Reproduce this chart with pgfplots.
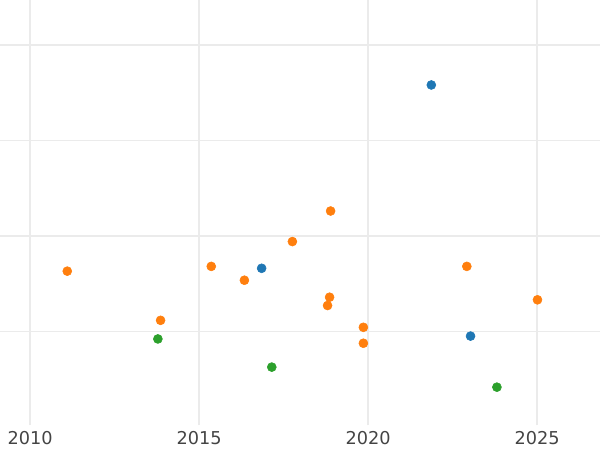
\documentclass[border=0pt]{standalone}
\usepackage{fontspec}
\setmainfont{DejaVu Sans}
\usepackage{pgfplots}
\pgfplotsset{compat=1.18}
\definecolor{tabblue}{HTML}{1F77B4}
\definecolor{taborange}{HTML}{FF7F0E}
\definecolor{tabgreen}{HTML}{2CA02C}
\definecolor{gridgray}{HTML}{EBEBEB}
\definecolor{labelgray}{HTML}{444444}
\begin{document}
\begin{tikzpicture}
\begin{axis}[
  scale only axis,
  width=433.62pt, height=307.4pt,
  xmin=2009.11, xmax=2026.86,
  ymin=-0.985, ymax=3.47,
  xtick={2010,2015,2020,2025},
  ytick={0,1,2,3},
  yticklabels={},
  yticklabel style={inner sep=0pt, outer sep=0pt},
  xticklabel style={font=\fontsize{12.8}{14}\selectfont, text=labelgray, yshift=-1pt},
  /pgf/number format/assume math mode=true,
  /pgf/number format/1000 sep={},
  grid=major,
  major grid style={gridgray, line width=1pt},
  axis line style={draw=none},
  major tick length=0pt,
  every axis plot/.append style={only marks, mark=*, mark size=3.25pt},
]
\addplot[tabblue, mark options={draw=tabblue, fill=tabblue}] coordinates {
  (2021.87,2.58) (2016.85,0.66) (2023.03,-0.05)
};
\addplot[taborange, mark options={draw=taborange, fill=taborange}] coordinates {
  (2011.10,0.63) (2013.86,0.115) (2015.36,0.68) (2016.34,0.535)
  (2017.76,0.94) (2018.89,1.26) (2018.86,0.357) (2018.80,0.27)
  (2019.86,0.042) (2019.86,-0.125) (2022.92,0.68) (2025.01,0.33)
};
\addplot[tabgreen, mark options={draw=tabgreen, fill=tabgreen}] coordinates {
  (2013.78,-0.08) (2017.15,-0.375) (2023.81,-0.585)
};
\end{axis}
\pgfresetboundingbox
\path[use as bounding box] (current axis.south west) ++(0,-18.1pt) rectangle (current axis.north east);
\end{tikzpicture}
\end{document}
